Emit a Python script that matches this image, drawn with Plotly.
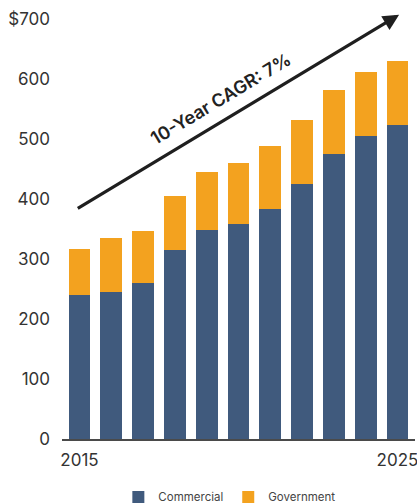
import plotly.graph_objects as go

# Revenue by customer segment, $ millions
years = list(range(2015, 2026))
commercial = [240, 245, 260, 315, 348, 358, 383, 425, 475, 505, 523]
government = [77, 90, 87, 90, 97, 102, 105, 107, 107, 107, 107]
y_ticks = [0, 100, 200, 300, 400, 500, 600, 700]
y_tick_text = ["0", "100", "200", "300", "400", "500", "600", "$700"]
x_ticks = [2015, 2025]

BLUE = "#405A7D"
ORANGE = "#F3A21F"
FONT = "Inter"

fig = go.Figure()
fig.add_trace(go.Bar(x=years, y=commercial, name="Commercial", marker_color=BLUE,
                     marker_line_width=0))
fig.add_trace(go.Bar(x=years, y=government, name="Government", marker_color=ORANGE,
                     marker_line_width=0))

# Growth arrow with CAGR label
fig.add_annotation(x=2025.05, y=707, ax=2014.9, ay=383, xref="x", yref="y",
                   axref="x", ayref="y", showarrow=True, arrowhead=2,
                   arrowsize=1, arrowwidth=3.2, arrowcolor="#1f1f1f", text="")
fig.add_annotation(x=2019.45, y=567, xref="x", yref="y", showarrow=False,
                   text="10-Year CAGR: 7%", textangle=-31,
                   font=dict(family=FONT, size=18, weight=600, color="#222222"))

fig.update_layout(
    width=417, height=503,
    margin=dict(l=62, r=2, t=19, b=64, autoexpand=False),
    barmode="stack", bargap=0.31,
    plot_bgcolor="white", paper_bgcolor="white",
    font=dict(family=FONT, color="#333333"),
    showlegend=True,
    legend=dict(orientation="h", x=0.55, xanchor="center", xref="container",
                y=0.012, yanchor="middle", yref="container",
                font=dict(size=11.5, color="#444444"), itemwidth=30,
                traceorder="normal"),
    xaxis=dict(range=[2014.45, 2025.55], tickvals=x_ticks, showgrid=False,
               showline=True, linecolor="#4a4a4a", linewidth=1.5, ticks="",
               tickfont=dict(size=17, color="#333333"), ticklabelstandoff=5,
               ticklabeloverflow="allow"),
    yaxis=dict(range=[0, 700], tickvals=y_ticks, ticktext=y_tick_text,
               showgrid=False, zeroline=False, showline=False, ticks="",
               tickfont=dict(size=17, color="#333333"), ticklabelstandoff=11,
               ticklabeloverflow="allow"),
)

fig.write_html("out.html")
